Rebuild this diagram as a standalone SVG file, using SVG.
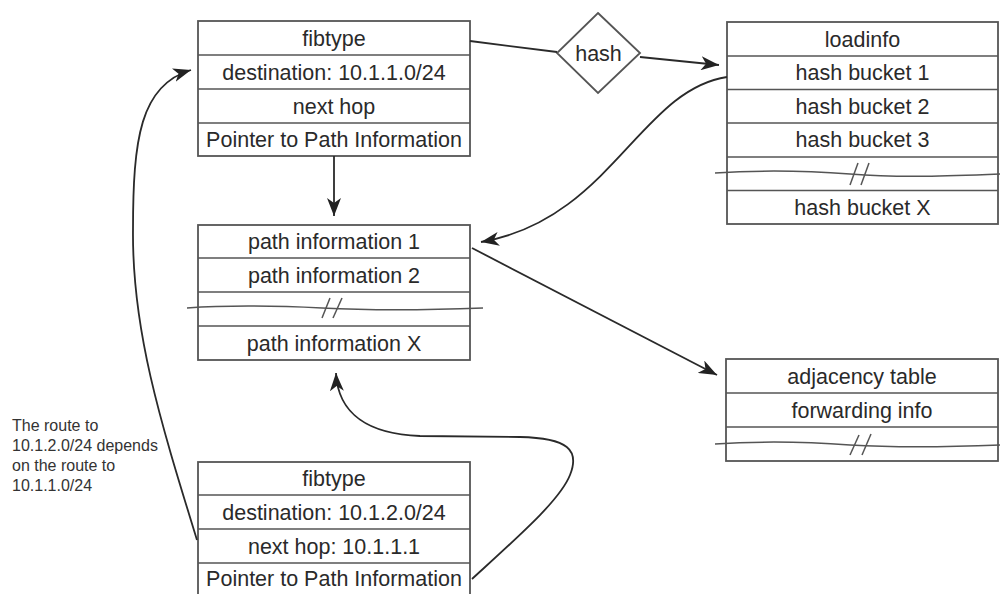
<svg xmlns="http://www.w3.org/2000/svg" width="1000" height="594" viewBox="0 0 1000 594">
<style>
.box{fill:#fff;stroke:#555;stroke-width:1.8}
.sep{stroke:#555;stroke-width:1.6}
.t{font-family:"Liberation Sans",Arial,sans-serif;font-size:21.5px;fill:#2a2a2a;text-anchor:middle}
.note{font-family:"Liberation Sans",Arial,sans-serif;font-size:16px;fill:#333}
.brk{fill:none;stroke:#555;stroke-width:1.5}
.c{fill:none;stroke:#2a2a2a;stroke-width:1.8}
</style>
<defs>
<marker id="ah" markerUnits="userSpaceOnUse" markerWidth="20" markerHeight="14" refX="18" refY="7" orient="auto">
<path d="M0,0 L18,7 L0,14 L5,7 z" fill="#222"/>
</marker>
</defs>
<rect width="1000" height="594" fill="#fff"/>

<g id="fib1">
<rect class="box" x="198" y="21" width="272" height="135"/>
<line class="sep" x1="198" y1="55" x2="470" y2="55"/>
<line class="sep" x1="198" y1="89" x2="470" y2="89"/>
<line class="sep" x1="198" y1="123" x2="470" y2="123"/>
<text class="t" x="334" y="45.5">fibtype</text>
<text class="t" x="334" y="79.5">destination: 10.1.1.0/24</text>
<text class="t" x="334" y="113.5">next hop</text>
<text class="t" x="334" y="147">Pointer to Path Information</text>
</g>

<g id="hash">
<polygon points="598,13 640,53 598,93 557,53" fill="#fff" stroke="#555" stroke-width="1.8"/>
<text class="t" x="598.5" y="61">hash</text>
</g>

<g id="loadinfo">
<rect class="box" x="727" y="22" width="271" height="202"/>
<line class="sep" x1="727" y1="56" x2="998" y2="56"/>
<line class="sep" x1="727" y1="89.5" x2="998" y2="89.5"/>
<line class="sep" x1="727" y1="123" x2="998" y2="123"/>
<line class="sep" x1="727" y1="157" x2="998" y2="157"/>
<line class="sep" x1="727" y1="190.5" x2="998" y2="190.5"/>
<text class="t" x="862.5" y="46.5">loadinfo</text>
<text class="t" x="862.5" y="80">hash bucket 1</text>
<text class="t" x="862.5" y="113.5">hash bucket 2</text>
<text class="t" x="862.5" y="147">hash bucket 3</text>
<text class="t" x="862.5" y="215">hash bucket X</text>
<path class="brk" d="M715,173 C760,170 810,171 850,174 C900,178 950,176 1000,174"/>
<line class="brk" x1="850" y1="185" x2="858" y2="163"/>
<line class="brk" x1="861" y1="185" x2="869" y2="163"/>
</g>

<g id="pathinfo">
<rect class="box" x="198" y="225" width="272" height="135"/>
<line class="sep" x1="198" y1="258" x2="470" y2="258"/>
<line class="sep" x1="198" y1="292" x2="470" y2="292"/>
<line class="sep" x1="198" y1="326" x2="470" y2="326"/>
<text class="t" x="334" y="249">path information 1</text>
<text class="t" x="334" y="282.5">path information 2</text>
<text class="t" x="334" y="350.5">path information X</text>
<path class="brk" d="M187,308 C230,305 280,306 322,308 C380,311 430,310 483,308"/>
<line class="brk" x1="322" y1="318" x2="330" y2="298"/>
<line class="brk" x1="333" y1="318" x2="342" y2="298"/>
</g>

<g id="adjacency">
<rect class="box" x="726" y="359" width="272" height="102"/>
<line class="sep" x1="726" y1="393" x2="998" y2="393"/>
<line class="sep" x1="726" y1="427" x2="998" y2="427"/>
<text class="t" x="862" y="383.5">adjacency table</text>
<text class="t" x="862" y="417.5">forwarding info</text>
<path class="brk" d="M715,444 C760,441 810,442 850,445 C900,448 950,447 1000,445"/>
<line class="brk" x1="850" y1="455" x2="859" y2="435"/>
<line class="brk" x1="862" y1="455" x2="871" y2="434"/>
</g>

<g id="fib2">
<rect class="box" x="198" y="462" width="272" height="140"/>
<line class="sep" x1="198" y1="495" x2="470" y2="495"/>
<line class="sep" x1="198" y1="529" x2="470" y2="529"/>
<line class="sep" x1="198" y1="563" x2="470" y2="563"/>
<text class="t" x="334" y="486">fibtype</text>
<text class="t" x="334" y="519.5">destination: 10.1.2.0/24</text>
<text class="t" x="334" y="553.5">next hop: 10.1.1.1</text>
<text class="t" x="334" y="586">Pointer to Path Information</text>
</g>

<g id="note">
<text class="note" x="12" y="431">The route to</text>
<text class="note" x="12" y="451">10.1.2.0/24 depends</text>
<text class="note" x="12" y="471">on the route to</text>
<text class="note" x="12" y="491">10.1.1.0/24</text>
</g>

<g id="connectors">
<line class="c" x1="470" y1="41" x2="557" y2="52"/>
<line class="c" x1="640" y1="57" x2="719" y2="65" marker-end="url(#ah)"/>
<line class="c" x1="334" y1="156" x2="334" y2="216" marker-end="url(#ah)"/>
<path class="c" d="M727,77 C640,90 610,220 481,242" marker-end="url(#ah)"/>
<line class="c" x1="472" y1="248" x2="717" y2="375" marker-end="url(#ah)"/>
<path class="c" d="M472,579 C520,535 560,500 570,475 C580,450 568,438 520,437 L420,436 C370,434 338,415 336,373" marker-end="url(#ah)"/>
<path class="c" d="M197,540 C160,420 132,330 133,230 C133,140 140,85 191,70" marker-end="url(#ah)"/>
</g>
</svg>
